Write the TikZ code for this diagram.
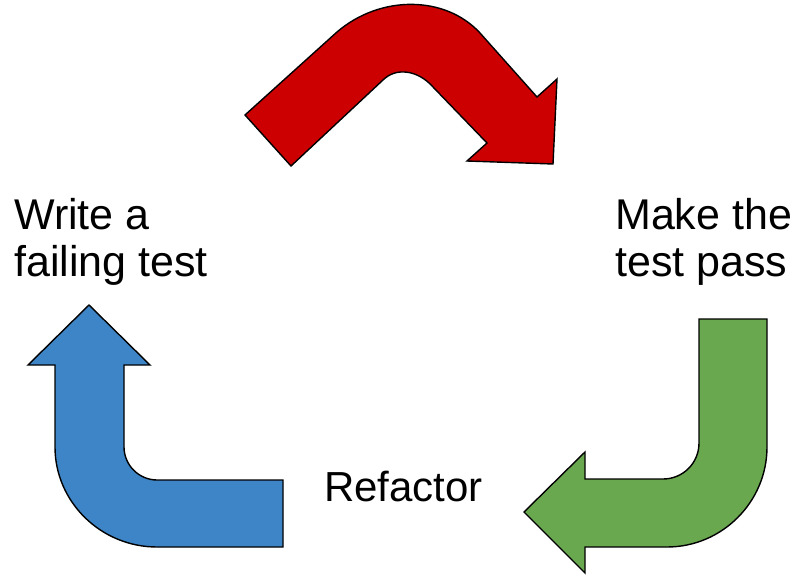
\documentclass[tikz,border=0pt]{standalone}
\usepackage{fontspec}
\setmainfont{Liberation Sans}
\definecolor{redA}{HTML}{CC0000}
\definecolor{blueA}{HTML}{3D85C6}
\definecolor{greenA}{HTML}{6AA84F}
\tikzset{
  bentarrow/.style={draw=black, line width=1.4pt, line join=miter},
  label/.style={font=\fontsize{43}{47}\selectfont, inner sep=0pt, anchor=base west, align=left}
}
\begin{document}
\begin{tikzpicture}[x=1pt,y=-1pt]
\useasboundingbox (0,0) rectangle (800,575);
% red arrow (top)
\filldraw[bentarrow, fill=redA]
  (245,115) -- (337,32)
  .. controls (380,-5) and (445,-5) .. (480,33)
  -- (537,97) -- (557,79) -- (553,164) -- (467,161) -- (487,143)
  -- (433,87)
  .. controls (418,70) and (396,67) .. (383,80)
  -- (291,166) -- cycle;
% green arrow (right)
\filldraw[bentarrow, fill=greenA]
  (699,319) -- (767,319) -- (767,447)
  .. controls (767,502) and (722,547) .. (667,547)
  -- (585,547) -- (585,573) -- (524,512) -- (585,452) -- (585,479)
  -- (663,479)
  .. controls (683,479) and (699,463) .. (699,443) -- cycle;
% blue arrow (left)
\filldraw[bentarrow, fill=blueA]
  (283,547) -- (157,547)
  .. controls (101,547) and (55,502) .. (55,447)
  -- (55,365) -- (28,365) -- (89,305) -- (150,365) -- (124,365)
  -- (124,447)
  .. controls (124,465) and (139,480) .. (157,480)
  -- (283,480) -- cycle;
% labels (anchor = baseline of last line)
\node[label] (write) at (14,276) {Write a\\failing test};
\node[label] (make) at (615,276) {Make the\\test pass};
\node[label, font=\fontsize{42}{47}\selectfont] (refactor) at (324,501) {Refactor};
\end{tikzpicture}
\end{document}
